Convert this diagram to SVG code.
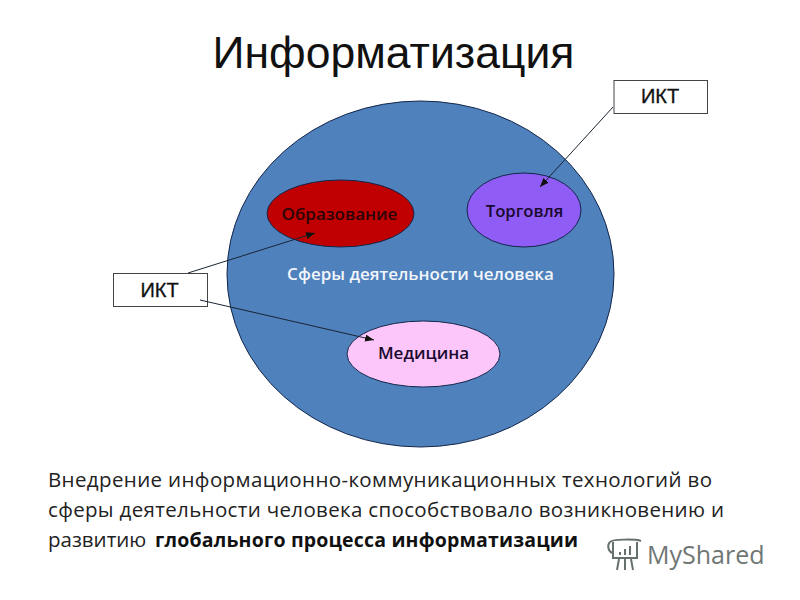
<svg xmlns="http://www.w3.org/2000/svg" width="800" height="600" viewBox="0 0 800 600">
<style>
text{font-family:"Open Sans","Noto Sans","Liberation Sans",sans-serif}
.t{font-family:"Liberation Sans",sans-serif;font-size:44.500px;fill:#111;text-anchor:middle}
.n{font-size:17px;font-weight:600;fill:#1a0a30;text-anchor:middle}
.b{fill:#fff;stroke:#444;stroke-width:1}
.l{font-family:"Liberation Sans",sans-serif;font-size:20px;fill:#111;stroke:#111;stroke-width:.3;text-anchor:middle}
.p{font-size:20.500px;fill:#222}
.e{stroke:#12264a;stroke-width:1}
.c{fill:none;stroke:#1a2535;stroke-width:1;marker-end:url(#a)}
.i{fill:none;stroke:#66706c;stroke-width:2}
</style>
<defs><marker id="a" markerUnits="userSpaceOnUse" markerWidth="10" markerHeight="8" refX="9" refY="3.500" orient="auto"><path d="M0 0L9 3.500L0 7Z" fill="#111"/></marker></defs>
<rect width="800" height="600" fill="#fff"/>
<text class="t" x="393.500" y="68">Информатизация</text>
<g id="sphere"><ellipse class="e" cx="420.500" cy="274" rx="193.500" ry="173" fill="#4f81bd"/>
<text x="420.500" y="280" text-anchor="middle" font-size="17" font-weight="600" fill="#f2f6fb">Сферы деятельности человека</text></g>
<g id="education"><ellipse class="e" cx="340.500" cy="213.500" rx="73.500" ry="33.500" fill="#c00000"/><text class="n" x="339.500" y="220" style="fill:#2a0508">Образование</text></g>
<g id="trade"><ellipse class="e" cx="524" cy="210" rx="57" ry="37" fill="#8f5cf5"/><text class="n" x="524.500" y="217" style="font-size:16.700px">Торговля</text></g>
<g id="medicine"><ellipse class="e" cx="423.500" cy="354" rx="76.500" ry="33" fill="#fcc6fa"/><text class="n" x="423.500" y="359">Медицина</text></g>
<g id="ikt-right"><rect class="b" x="614" y="80.500" width="93.500" height="33"/><text class="l" x="660" y="103">ИКТ</text></g>
<g id="ikt-left"><rect class="b" x="113.500" y="273.500" width="94" height="33"/><text class="l" x="159.500" y="297">ИКТ</text></g>
<g id="connectors">
<path class="c" d="M188 273L315 233"/>
<path class="c" d="M200 300L374 340"/>
<path class="c" d="M613 107L540 187"/>
</g>
<g id="caption">
<text class="p" x="48" y="487" textLength="664" lengthAdjust="spacing">Внедрение информационно-коммуникационных технологий во</text>
<text class="p" x="48" y="517" textLength="676" lengthAdjust="spacing">сферы деятельности человека способствовало возникновению и</text>
<text class="p" x="48" y="547">развитию</text>
<text class="p" x="155" y="547" font-weight="700" style="fill:#111;font-size:19.500px" textLength="423" lengthAdjust="spacing">глобального процесса информатизации</text>
</g>
<g id="watermark">
<path class="i" d="M610 542C612 539 636 539 641 541M613 542V558H637V542M610 542C607 545 608 551 612 553"/>
<path d="M619 555V552H621V555ZM624 555V549H626V555ZM629 555V546H631V555Z" fill="#66706c"/>
<path class="i" d="M619 559L617 570M625 559V570M631 559L633 570"/>
<text x="647" y="564" font-size="25" fill="#6f7674">MyShared</text>
</g>
</svg>
